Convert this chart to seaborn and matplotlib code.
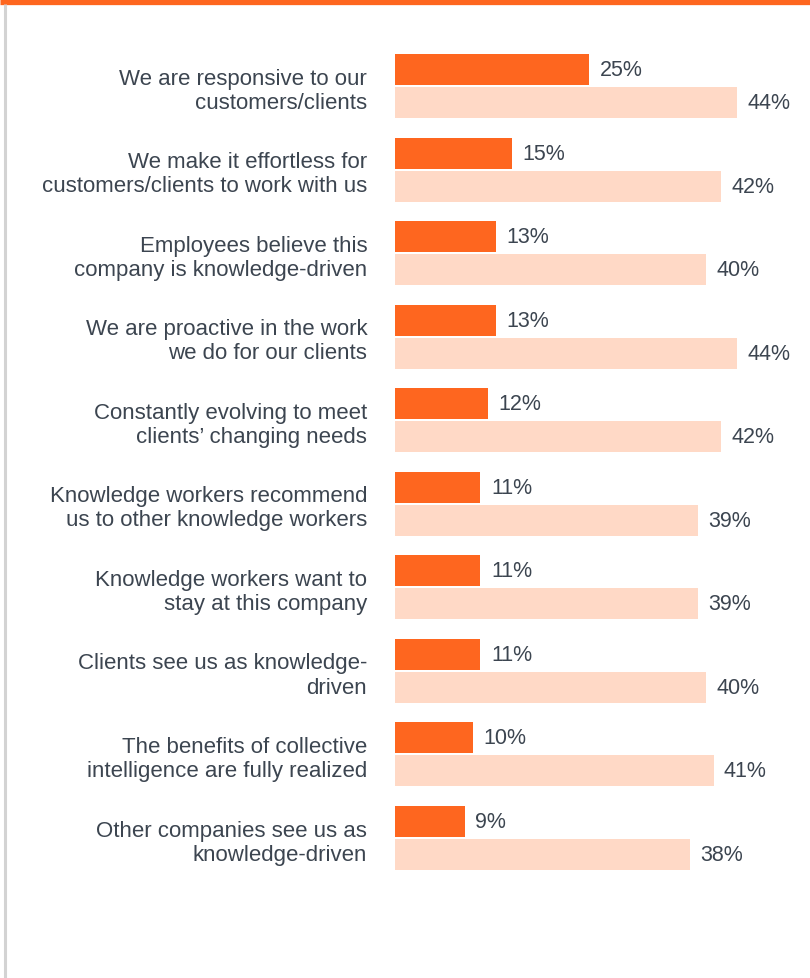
import matplotlib
matplotlib.use("Agg")
import matplotlib.pyplot as plt
import seaborn as sns
import pandas as pd
from matplotlib.lines import Line2D

# Statements (two-line labels, right aligned next to the bars)
statements = [
    "We are responsive to our\ncustomers/clients",
    "We make it effortless for\ncustomers/clients to work with us",
    "Employees believe this\ncompany is knowledge-driven",
    "We are proactive in the work\nwe do for our clients",
    "Constantly evolving to meet\nclients’ changing needs",
    "Knowledge workers recommend\nus to other knowledge workers",
    "Knowledge workers want to\nstay at this company",
    "Clients see us as knowledge-\ndriven",
    "The benefits of collective\nintelligence are fully realized",
    "Other companies see us as\nknowledge-driven",
]
primary_pct = [25, 15, 13, 13, 12, 11, 11, 11, 10, 9]
secondary_pct = [44, 42, 40, 44, 42, 39, 39, 40, 41, 38]
series_names = ["Primary", "Secondary"]

ORANGE = "#FE661F"
PEACH = "#FFD9C6"
TEXT = "#3C4550"

df = pd.DataFrame({
    "statement": statements * 2,
    "pct": primary_pct + secondary_pct,
    "series": [series_names[0]] * len(statements) + [series_names[1]] * len(statements),
})

sns.set_theme(style="white")
plt.rcParams["font.family"] = ["Liberation Sans", "DejaVu Sans"]

fig = plt.figure(figsize=(8.1, 9.79), dpi=100)
ax = fig.add_axes([395 / 810, 0.1003, (810 - 395) / 810, 0.9538 - 0.1003])

sns.barplot(
    data=df, x="pct", y="statement", hue="series", order=statements,
    hue_order=series_names, palette=[ORANGE, PEACH], orient="h",
    width=0.79, gap=0.06, saturation=1, legend=False, linewidth=0, ax=ax,
)

for container in ax.containers:
    ax.bar_label(container, fmt="%g%%", padding=7.5, fontsize=15.5, color=TEXT)

ax.set_xlim(0, 415 / 7.77)
ax.set_ylim(9.5, -0.5)
ax.set_xlabel("")
ax.set_ylabel("")
ax.set_xticks([])
ax.tick_params(axis="y", length=0, pad=20, labelsize=16, labelcolor=TEXT)
for lbl in ax.get_yticklabels():
    lbl.set_multialignment("right")
    lbl.set_linespacing(1.2)
for s in ax.spines.values():
    s.set_visible(False)

# Page frame: orange band along the top, thin grey rule down the left side
fig.add_artist(Line2D([0, 1], [1 - 2.5 / 979, 1 - 2.5 / 979], color=ORANGE,
                      lw=3.8, transform=fig.transFigure, solid_capstyle="butt"))
fig.add_artist(Line2D([5 / 810, 5 / 810], [0, 1 - 5 / 979], color="#D3D3D3",
                      lw=2.2, transform=fig.transFigure, solid_capstyle="butt"))

fig.savefig("out.png", dpi=100)
